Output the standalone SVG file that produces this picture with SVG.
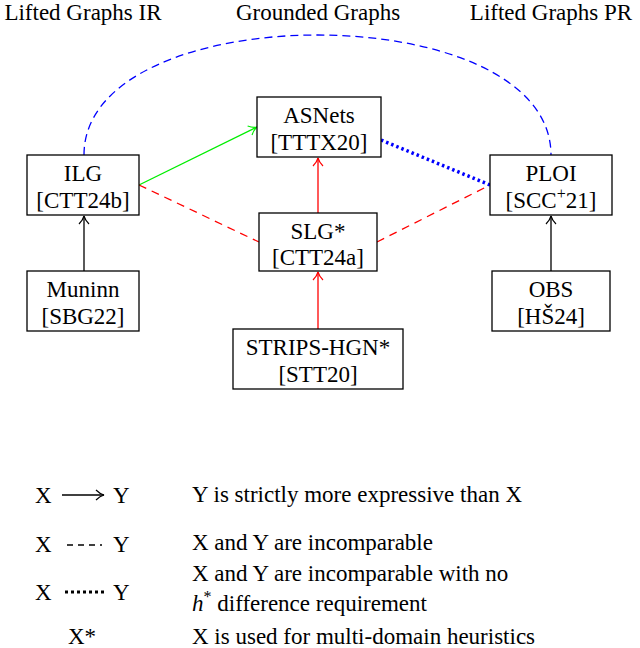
<svg xmlns="http://www.w3.org/2000/svg" width="640" height="648" viewBox="0 0 640 648" font-family="Liberation Serif, Times New Roman, serif" font-size="23">
<style>
text{font-family:'Liberation Serif','Times New Roman',serif;font-size:23px;fill:#000}
.c{text-anchor:middle}
rect{fill:#fff;stroke:#000;stroke-width:1.3}
</style>
<defs>
<marker id="ab" markerWidth="12" markerHeight="12" refX="10" refY="6" orient="auto" markerUnits="userSpaceOnUse"><path d="M2,1 Q6,5 10,6 Q6,7 2,11" fill="none" stroke="#000" stroke-width="1.2"/></marker>
<marker id="ar" markerWidth="12" markerHeight="12" refX="10" refY="6" orient="auto" markerUnits="userSpaceOnUse"><path d="M2,1 Q6,5 10,6 Q6,7 2,11" fill="none" stroke="#f00" stroke-width="1.2"/></marker>
<marker id="ag" markerWidth="12" markerHeight="12" refX="10" refY="6" orient="auto" markerUnits="userSpaceOnUse"><path d="M2,1 Q6,5 10,6 Q6,7 2,11" fill="none" stroke="#0e0" stroke-width="1.2"/></marker>
</defs>
<text class="c" x="83" y="20">Lifted Graphs IR</text>
<text class="c" x="318" y="20">Grounded Graphs</text>
<text class="c" x="551" y="20">Lifted Graphs PR</text>
<g id="connectors" fill="none" stroke-width="1.3">
<path d="M84,155 C84,-5 551,-5 551,155" stroke="#00f" stroke-dasharray="8,5"/>
<line x1="139" y1="185" x2="257" y2="127" stroke="#0e0" marker-end="url(#ag)"/>
<line x1="139" y1="185" x2="259" y2="242" stroke="#f00" stroke-dasharray="8,6"/>
<line x1="377" y1="242" x2="490" y2="185" stroke="#f00" stroke-dasharray="8,6"/>
<line x1="381" y1="140" x2="490" y2="185" stroke="#00f" stroke-width="3.5" stroke-dasharray="2.5,3"/>
<line x1="318" y1="213" x2="318" y2="158" stroke="#f00" marker-end="url(#ar)"/>
<line x1="318" y1="329" x2="318" y2="272" stroke="#f00" marker-end="url(#ar)"/>
<line x1="84" y1="271" x2="84" y2="216" stroke="#000" marker-end="url(#ab)"/>
<line x1="551" y1="271" x2="551" y2="216" stroke="#000" marker-end="url(#ab)"/>
</g>
<g id="asnets"><rect x="257" y="97" width="124" height="60"/><text class="c" x="319" y="123">ASNets</text><text class="c" x="319" y="150">[TTTX20]</text></g>
<g id="ilg"><rect x="27" y="155" width="112" height="60"/><text class="c" x="83" y="181">ILG</text><text class="c" x="83" y="208">[CTT24b]</text></g>
<g id="ploi"><rect x="490" y="155" width="122" height="60"/><text class="c" x="551" y="181">PLOI</text><text class="c" x="551" y="208">[SCC<tspan dy="-9" style="font-size:16px">+</tspan><tspan dy="9">21]</tspan></text></g>
<g id="slg"><rect x="259" y="213" width="118" height="58"/><text class="c" x="318" y="239">SLG*</text><text class="c" x="318" y="265">[CTT24a]</text></g>
<g id="muninn"><rect x="27" y="271" width="112" height="60"/><text class="c" x="83" y="297">Muninn</text><text class="c" x="83" y="324">[SBG22]</text></g>
<g id="obs"><rect x="492" y="271" width="118" height="60"/><text class="c" x="551" y="297">OBS</text><text class="c" x="551" y="324">[HŠ24]</text></g>
<g id="strips"><rect x="233" y="329" width="170" height="60"/><text class="c" x="318" y="355">STRIPS-HGN*</text><text class="c" x="318" y="382">[STT20]</text></g>
<g id="legend">
<text x="35" y="503">X</text><line x1="62" y1="495" x2="104" y2="495" stroke="#000" stroke-width="1.3" marker-end="url(#ab)"/><text x="113" y="503">Y</text>
<text x="192" y="502">Y is strictly more expressive than X</text>
<text x="35" y="552">X</text><line x1="67" y1="545" x2="102" y2="545" stroke="#000" stroke-width="1.5" stroke-dasharray="6,5"/><text x="113" y="552">Y</text>
<text x="192" y="550">X and Y are incomparable</text>
<text x="35" y="600">X</text><line x1="65" y1="592" x2="104" y2="592" stroke="#000" stroke-width="3" stroke-dasharray="3,3"/><text x="113" y="600">Y</text>
<text x="192" y="581">X and Y are incomparable with no</text>
<text x="192" y="611"><tspan style="font-style:italic">h</tspan><tspan dy="-9" style="font-size:16px">*</tspan><tspan dy="9"> difference requirement</tspan></text>
<text x="68" y="644">X*</text>
<text x="192" y="644">X is used for multi-domain heuristics</text>
</g>
</svg>
